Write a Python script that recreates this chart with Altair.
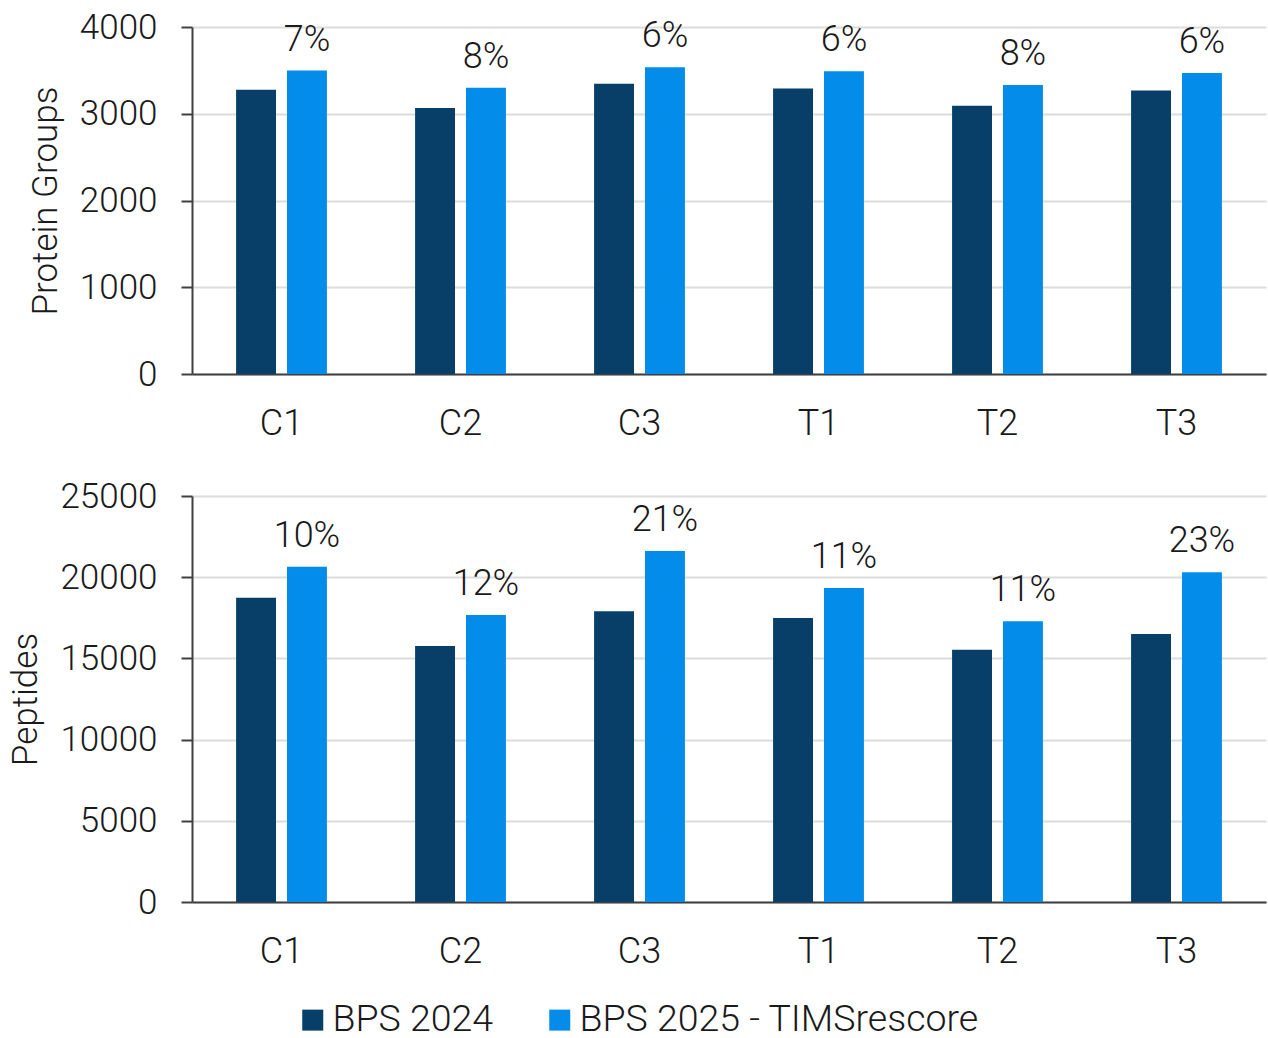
import altair as alt
import pandas as pd

# Sample groups and the two search pipelines being compared
samples = ["C1", "C2", "C3", "T1", "T2", "T3"]
series = ["BPS 2024", "BPS 2025 - TIMSrescore"]

# Protein group identifications
protein_2024 = [3276, 3065, 3345, 3291, 3091, 3268]
protein_2025 = [3498, 3299, 3537, 3491, 3330, 3470]
protein_gain = ["7%", "8%", "6%", "6%", "8%", "6%"]

# Peptide identifications
peptide_2024 = [18740, 15760, 17900, 17490, 15540, 16500]
peptide_2025 = [20650, 17670, 21610, 19340, 17280, 20300]
peptide_gain = ["10%", "12%", "21%", "11%", "11%", "23%"]

FONT = "Roboto"
DARK = "#083F69"
LIGHT = "#038CEA"
TEXT = "#1a1a1a"
AXIS = "#404040"


def long_table(old, new, gains):
    rows = []
    for s, a, b, g in zip(samples, old, new, gains):
        rows.append({"sample": s, "series": series[0], "value": a, "gain": g})
        rows.append({"sample": s, "series": series[1], "value": b, "gain": g})
    return pd.DataFrame(rows)


legend = alt.Legend(
    orient="none", legendX=102, legendY=974, direction="horizontal",
    title=None, symbolType="square", symbolSize=441, symbolStrokeWidth=0,
    labelFont=FONT, labelFontSize=37.5, labelFontWeight=300, labelColor=TEXT,
    labelOffset=1, columnPadding=47, labelLimit=600,
)


def panel(old, new, gains, title, ymax, step, height):
    df = long_table(old, new, gains)
    x = alt.X(
        "sample:N", sort=samples, title=None,
        scale=alt.Scale(paddingInner=0.4925, paddingOuter=0.2463),
        axis=alt.Axis(
            labelAngle=0, ticks=False, grid=False, domainColor=AXIS,
            domainWidth=2, labelFont=FONT, labelFontSize=36,
            labelFontWeight=300, labelColor=TEXT, labelPadding=32,
        ),
    )
    xo = alt.XOffset("series:N", sort=series,
                     scale=alt.Scale(paddingInner=0.2157, paddingOuter=0))
    y = alt.Y(
        "value:Q", title=title,
        scale=alt.Scale(domain=[0, ymax], nice=False),
        axis=alt.Axis(
            values=list(range(0, ymax + 1, step)), format="d",
            grid=True, gridColor="#dcdcdc", gridWidth=2,
            domainColor=AXIS, domainWidth=2, tickColor=AXIS, tickWidth=2,
            tickSize=11, labelFont=FONT, labelFontSize=35,
            labelFontWeight=300, labelColor=TEXT, labelPadding=24,
            titleFont=FONT, titleFontSize=35, titleFontWeight=300,
            titleColor=TEXT, titlePadding=16,
        ),
    )
    color = alt.Color("series:N", sort=series,
                      scale=alt.Scale(domain=series, range=[DARK, LIGHT]),
                      legend=legend)
    base = alt.Chart(df)
    bars = base.mark_bar().encode(x=x, xOffset=xo, y=y, color=color)
    labels = base.transform_filter(
        alt.datum.series == series[1]
    ).mark_text(
        baseline="bottom", dy=-12, font=FONT, fontSize=36,
        fontWeight=300, color=TEXT,
    ).encode(x=x, xOffset=xo, y=y, text="gain:N")
    return alt.layer(bars, labels).properties(width=1074, height=height)


top = panel(protein_2024, protein_2025, protein_gain, "Protein Groups",
            4000, 1000, 347)
bottom = panel(peptide_2024, peptide_2025, peptide_gain, "Peptides",
               25000, 5000, 406)

chart = alt.vconcat(top, bottom, spacing=38).properties(
    padding={"left": 8, "top": 10, "right": 2, "bottom": 2},
    background="white",
).configure_view(stroke=None)

chart.save("out.html", embed_options={"renderer": "svg", "actions": False})
